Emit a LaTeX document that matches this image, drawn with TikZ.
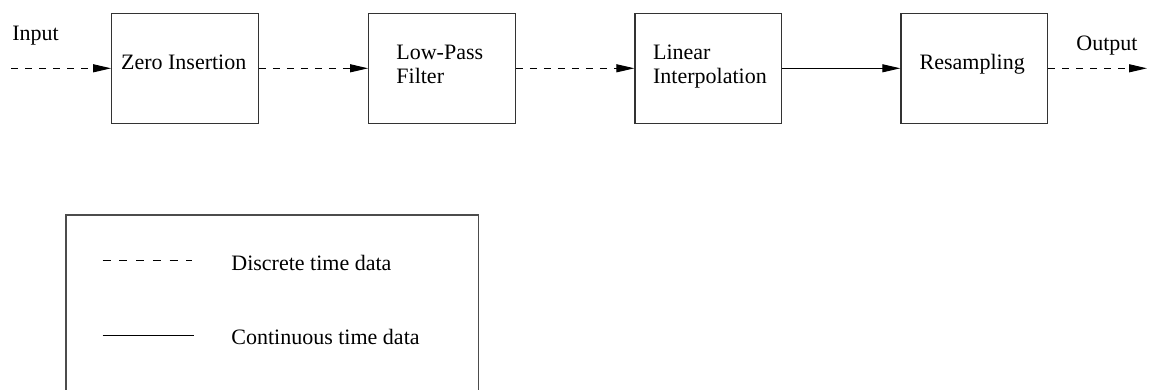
\documentclass[tikz,border=0pt]{standalone}
\usepackage{fontspec}
\setmainfont{Liberation Serif}
\usetikzlibrary{arrows.meta}
\begin{document}
\begin{tikzpicture}[x=0.5pt,y=-0.5pt,
  blk/.style={draw=black!80, line width=0.6pt, minimum width=73.3pt, minimum height=55pt, inner sep=0pt},
  lbl/.style={anchor=base west, inner sep=0pt, font=\fontsize{11}{12}\selectfont, align=left},
  flow/.style={line width=0.5pt, -{Triangle[length=9pt,width=4pt]}},
  disc/.style={dash pattern=on 3.6pt off 3.4pt},
  legdisc/.style={line width=0.5pt, dash pattern=on 4pt off 4.35pt},
  legcont/.style={line width=0.5pt},
]
\useasboundingbox (0,0) rectangle (1149,390);
\clip (0,0) rectangle (1149,390);
% blocks
\node[blk] (zi) at (185,68.3) {};
\node[blk] (lp) at (442,68.3) {};
\node[blk] (li) at (708.3,68.3) {};
\node[blk] (rs) at (974.2,68.3) {};
% texts
\node[lbl] (tin) at (12,41) {Input};
\node[lbl] (tzi) at (120.7,69.6) {Zero Insertion};
\node[lbl] (tlp) at (396,83.6) {Low-Pass\\Filter};
\node[lbl] (tli) at (652.7,83.6) {Linear\\Interpolation};
\node[lbl] (trs) at (919.3,69.6) {Resampling};
\node[lbl] (tout) at (1076,51) {Output};
% connectors
\coordinate (in) at (11,68.3);
\coordinate (out) at (1147,68.3);
\draw[flow,disc] (in) -- (zi.west);
\draw[flow,disc] (zi.east) -- (lp.west);
\draw[flow,disc] (lp.east) -- (li.west);
\draw[flow] (li.east) -- (rs.west);
\draw[flow,disc] (rs.east) -- (out);
% legend
\node[draw=black!70, line width=0.8pt, minimum width=206.15pt, minimum height=92.5pt, inner sep=0pt] (leg) at (272.15,307.5) {};
\coordinate (d1) at (102.7,260.7);
\coordinate (d2) at (192,260.7);
\coordinate (c1) at (102.7,335);
\coordinate (c2) at (194.3,335);
\draw[legdisc] (d1) -- (d2);
\draw[legcont] (c1) -- (c2);
\node[lbl] (tdisc) at (231,270.6) {Discrete time data};
\node[lbl] (tcont) at (231,344.6) {Continuous time data};
\end{tikzpicture}
\end{document}
